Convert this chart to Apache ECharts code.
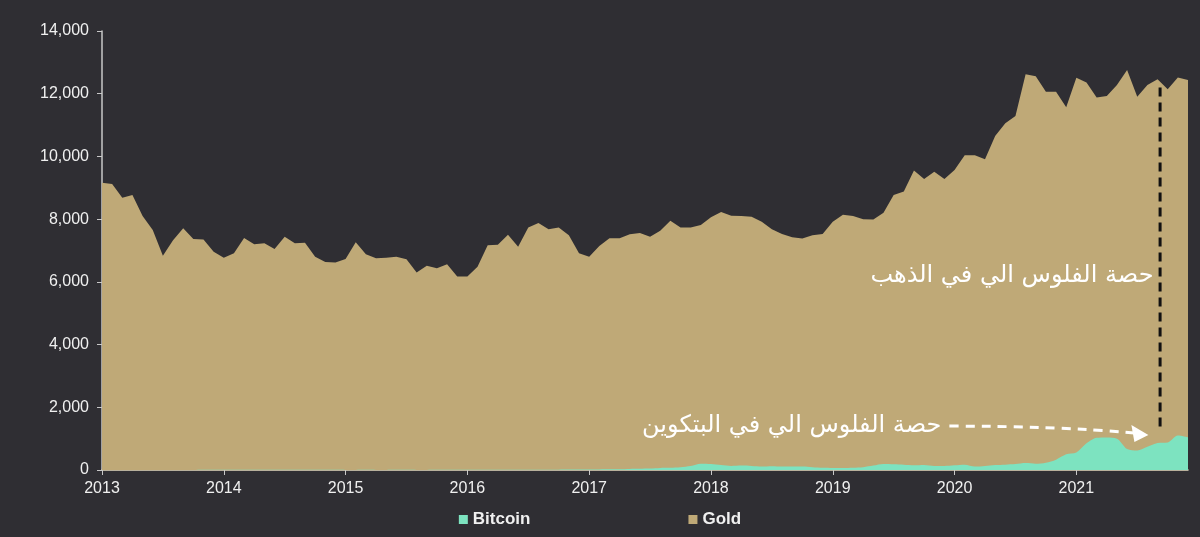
<!DOCTYPE html>
<html>
<head>
<meta charset="utf-8">
<script src="https://cdn.jsdelivr.net/npm/echarts@6/dist/echarts.min.js"></script>
<style>
html,body{margin:0;padding:0;background:#2f2e33;}
#c{width:1200px;height:537px;}
</style>
</head>
<body>
<div id="c"></div>
<script>
// Monthly, Jan 2013 .. Dec 2021
const years = [2013, 2014, 2015, 2016, 2017, 2018, 2019, 2020, 2021];
const yTicks = [0, 2000, 4000, 6000, 8000, 10000, 12000, 14000];

const gold = [
  9160, 9120, 8680, 8770, 8100, 7650, 6830, 7330, 7710, 7370, 7350, 6960,
  6770, 6910, 7400, 7200, 7230, 7050, 7440, 7230, 7250, 6800, 6630, 6620,
  6730, 7260, 6880, 6750, 6770, 6800, 6720, 6300, 6510, 6430, 6560, 6170,
  6170, 6480, 7170, 7180, 7500, 7120, 7730, 7880, 7680, 7730, 7490, 6910,
  6800, 7140, 7390, 7390, 7520, 7560, 7440, 7630, 7950, 7730, 7730, 7810,
  8060, 8230, 8110, 8100, 8080, 7920, 7680, 7530, 7420, 7380, 7490, 7530,
  7920, 8140, 8100, 8000, 7990, 8200, 8770, 8880, 9550, 9280, 9510, 9280,
  9570, 10040, 10040, 9910, 10650, 11060, 11290, 12620, 12560, 12060, 12060, 11570,
  12510, 12360, 11880, 11930, 12280, 12760, 11900, 12280, 12460, 12140, 12520, 12440
];

const bitcoin = [
  1, 1, 1, 1, 1, 1, 1, 1, 1, 2, 10, 10,
  9, 8, 7, 6, 6, 8, 8, 7, 6, 5, 5, 4,
  3, 3, 4, 3, 3, 4, 4, 3, 3, 4, 5, 6,
  6, 7, 7, 7, 7, 10, 10, 10, 10, 11, 12, 15,
  15, 18, 20, 25, 35, 40, 45, 65, 70, 90, 130, 200,
  190, 160, 130, 140, 130, 110, 120, 110, 110, 110, 90, 70,
  65, 65, 75, 90, 140, 190, 180, 170, 150, 160, 130, 130,
  150, 170, 110, 130, 160, 170, 190, 220, 200, 230, 330, 500,
  560, 850, 1030, 1040, 1000, 670, 620, 740, 860, 880, 1100, 1040
];

const goldLabel = 'حصة الفلوس الي في الذهب';
const btcLabel = 'حصة الفلوس الي في البتكوين';

const months = [];
years.forEach(y => { for (let m = 1; m <= 12; m++) months.push(y + '-' + (m < 10 ? '0' + m : m)); });

const chart = echarts.init(document.getElementById('c'), null, {renderer: 'canvas'});
const axisColor = '#c8c8c8';
const textColor = '#f0f0f0';
const latin = 'Liberation Sans, Arial, sans-serif';

chart.setOption({
  backgroundColor: '#2f2e33',
  animation: false,
  grid: {left: 102, right: 12, top: 31, bottom: 67},
  legend: {
    data: [{name: 'Bitcoin'}, {name: 'Gold'}],
    bottom: 4,
    left: 'center',
    icon: 'rect',
    itemWidth: 9,
    itemHeight: 9,
    itemGap: 158,
    textStyle: {color: textColor, fontSize: 17, fontWeight: 'bold', fontFamily: latin}
  },
  xAxis: {
    type: 'category',
    data: months,
    boundaryGap: false,
    axisLine: {lineStyle: {color: '#e6dcc0', width: 1.5}},
    axisTick: {show: true, length: 5, interval: (i) => i % 12 === 0, lineStyle: {color: axisColor}},
    axisLabel: {
      interval: (i) => i % 12 === 0,
      formatter: (v) => v.slice(0, 4),
      color: textColor, fontSize: 16, margin: 11,
      fontFamily: latin
    },
    splitLine: {show: false}
  },
  yAxis: {
    type: 'value',
    min: yTicks[0],
    max: yTicks[yTicks.length - 1],
    interval: yTicks[1] - yTicks[0],
    axisLine: {show: true, lineStyle: {color: axisColor, width: 1.5}},
    axisTick: {show: true, length: 5, lineStyle: {color: axisColor}},
    axisLabel: {
      color: textColor, fontSize: 16, margin: 13,
      fontFamily: latin,
      formatter: (v) => v.toLocaleString('en-US')
    },
    splitLine: {show: false}
  },
  series: [
    {
      name: 'Gold', type: 'line', data: gold, symbol: 'none',
      lineStyle: {width: 0}, itemStyle: {color: '#bfa977'},
      areaStyle: {color: '#bfa977', opacity: 1}, z: 2
    },
    {
      name: 'Bitcoin', type: 'line', data: bitcoin, symbol: 'none', smooth: 0.3,
      lineStyle: {width: 0}, itemStyle: {color: '#7de3c0'},
      areaStyle: {color: '#7de3c0', opacity: 1}, z: 3
    }
  ]
});

// Annotations anchored to data coordinates
function px(idx, val) { return chart.convertToPixel({xAxisIndex: 0, yAxisIndex: 0}, [idx, val]); }
const p0 = px(104, 0), p1 = px(105, 0);
const step = p1[0] - p0[0];
const lineX = p0[0] + step * 0.25;
const yTop = px(0, 12200)[1];
const yBot = px(0, 1350)[1];
const goldPos = px(103, 6200);
const btcPos = px(82, 1400);
const arrEnd = px(103, 1150);

const goldX = goldPos[0] + step * 0.6;
const btcX = btcPos[0] + step * 0.7;
const ax0 = btcX + 8, ay0 = btcPos[1];
const ax1 = arrEnd[0] - 3, ay1 = arrEnd[1];

chart.setOption({
  graphic: [
    {
      type: 'line', z: 100,
      shape: {x1: lineX, y1: yTop, x2: lineX, y2: yBot},
      style: {stroke: '#111111', lineWidth: 3, lineDash: [9, 6]}
    },
    {
      type: 'text', z: 100,
      x: goldX, y: goldPos[1],
      style: {text: goldLabel, fill: '#ffffff', font: '24px "DejaVu Sans", sans-serif', align: 'right', verticalAlign: 'middle'}
    },
    {
      type: 'text', z: 100,
      x: btcX, y: btcPos[1],
      style: {text: btcLabel, fill: '#ffffff', font: '24px "DejaVu Sans", sans-serif', align: 'right', verticalAlign: 'middle'}
    },
    {
      type: 'bezierCurve', z: 100,
      shape: {x1: ax0, y1: ay0, cpx1: ax0 + (ax1 - ax0) * 0.55, cpy1: ay0, x2: ax1 - 10, y2: ay1 - 1},
      style: {stroke: '#ffffff', lineWidth: 3, lineDash: [9, 7], fill: null}
    },
    {
      type: 'polygon', z: 100,
      shape: {points: [[ax1 + 4, ay1 + 1], [ax1 - 13, ay1 - 9], [ax1 - 10, ay1 + 8]]},
      style: {fill: '#ffffff'}
    }
  ]
});
</script>
</body>
</html>
